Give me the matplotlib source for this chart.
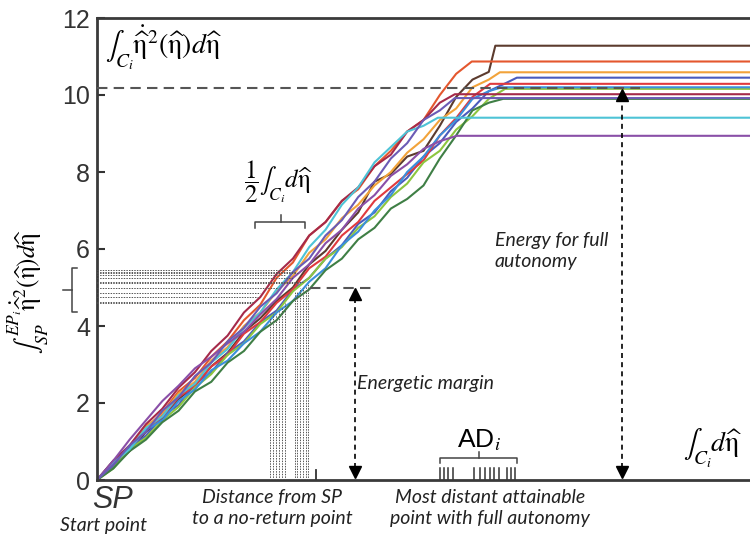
import numpy as np
import matplotlib.pyplot as plt

plt.rcParams['mathtext.fontset'] = 'stix'

# x grid (arbitrary distance units, axis spans 0..100)
step = 2.5

# energy curves, values on the grid, then (x, y) where the plateau starts
brown = [0, 0.38, 0.75, 1.25, 1.6, 2.1, 2.45, 2.95, 3.3, 3.85, 4.2, 4.65, 5.0, 5.6, 5.95,
         6.5, 6.95, 7.75, 7.95, 8.4, 8.55, 9.2, 9.95, 10.4, 10.6]
red_orange = [0, 0.45, 0.8, 1.35, 1.75, 2.3, 2.65, 3.2, 3.6, 4.15, 4.55, 5.25, 5.65, 6.35,
              6.7, 7.25, 7.55, 8.15, 8.55, 9.05, 9.35, 10.0, 10.55]
orange = [0, 0.5, 0.85, 1.4, 1.7, 2.25, 2.55, 3.1, 3.45, 4.0, 4.35, 4.9, 5.3, 5.9, 6.25,
          6.8, 7.15, 7.65, 8.0, 8.5, 8.85, 9.35, 9.65, 10.2, 10.4]
blue = [0, 0.35, 0.85, 1.15, 1.65, 1.95, 2.5, 2.8, 3.3, 3.6, 4.1, 4.4, 4.95, 5.25, 5.75,
        6.1, 6.65, 6.95, 7.5, 7.85, 8.4, 8.75, 9.3, 9.65, 10.1, 10.3]
red = [0, 0.45, 0.8, 1.3, 1.65, 2.15, 2.45, 2.95, 3.25, 3.8, 4.1, 4.6, 4.95, 5.5, 5.8,
       6.35, 6.7, 7.25, 7.6, 7.95, 8.3, 8.95, 9.4, 9.95]
light_green = [0, 0.3, 0.8, 1.1, 1.55, 1.9, 2.4, 2.75, 3.25, 3.55, 4.05, 4.35, 4.9, 5.25,
               5.75, 6.05, 6.55, 6.85, 7.35, 7.7, 8.25, 8.55, 9.1, 9.45, 9.9]
light_blue = [0, 0.5, 0.8, 1.3, 1.55, 2.05, 2.35, 2.85, 3.1, 3.55, 3.85, 4.35, 4.65, 5.15,
              5.5, 6.1, 6.45, 7.0, 7.4, 8.0, 8.4, 8.95, 9.35, 9.9, 10.1]
dark_red = [0, 0.5, 0.9, 1.45, 1.85, 2.4, 2.8, 3.35, 3.75, 4.35, 4.75, 5.35, 5.75, 6.35,
            6.7, 7.25, 7.6, 8.15, 8.45, 9.05, 9.35, 9.8]
dark_green = [0, 0.3, 0.75, 1.05, 1.5, 1.8, 2.3, 2.55, 3.05, 3.35, 3.85, 4.15, 4.65, 4.95,
              5.45, 5.75, 6.25, 6.55, 7.05, 7.3, 7.65, 8.35, 8.95, 9.6, 9.8]
cyan = [0, 0.45, 0.8, 1.35, 1.65, 2.2, 2.5, 3.05, 3.4, 3.95, 4.35, 4.95, 5.4, 6.05, 6.5,
        7.15, 7.6, 8.25, 8.65, 9.05, 9.2]
purple = [0, 0.5, 1.05, 1.55, 2.05, 2.45, 2.9, 3.2, 3.55, 3.85, 4.3, 4.7, 5.25, 5.6, 6.15,
          6.5, 7.05, 7.4, 7.9, 8.2, 8.6, 8.8]
violet = [0, 0.4, 0.9, 1.25, 1.8, 2.15, 2.7, 3.05, 3.6, 3.95, 4.5, 4.85, 5.4, 5.75, 6.35,
          6.75, 7.35, 7.75, 8.35, 8.75, 9.35, 9.6]

curves = [brown, red_orange, orange, blue, red, light_green, light_blue, dark_red,
          dark_green, cyan, purple, violet]
plateau_x = [61.0, 57.4, 61.7, 64.3, 60.2, 62.5, 62.0, 54.8, 62.2, 52.2, 55.1, 54.8]
plateau_y = [11.28, 10.87, 10.59, 10.45, 10.29, 10.16, 10.2, 10.02, 9.9, 9.41, 8.94, 9.92]
colors = ['#5c3b2e', '#e4572e', '#f2a33a', '#4a5bbd', '#e03a3e', '#8dc63f', '#3b8fdb',
          '#a52a4a', '#3f7f45', '#4ec3d6', '#8a4fa8', '#6b5bb5']

# no-return points (dotted guides)
nr_h_y = [5.45, 5.41, 5.37, 5.32, 5.24, 5.15, 5.11, 4.98, 4.87, 4.76, 4.63, 4.59]
nr_h_x = [29.5, 30.5, 31.0, 29.0, 30.0, 31.5, 30.8, 27.5, 25.0, 24.6, 24.0, 23.7]
nr_v_x = [26.5, 27.0, 27.4, 27.8, 28.3, 28.8, 30.3, 30.6, 31.1, 31.5, 32.0, 32.3]
nr_v_top = [4.2, 4.3, 4.3, 4.4, 4.5, 4.6, 4.9, 4.9, 5.0, 5.0, 5.05, 5.1]
nr_mean = 33.5

# attainable distances (ticks under AD_i)
ad_x = [52.6, 53.2, 53.8, 54.5, 57.7, 58.6, 59.4, 60.2, 60.8, 61.5, 62.8, 63.4, 64.0]

full_energy = 10.18
full_arrow_x = 80.4
margin_energy = 5.0
margin_arrow_x = 39.5

fig = plt.figure(figsize=(7.5, 5.38), dpi=100)
ax = fig.add_axes([97 / 750, 58 / 538, 653 / 750, 462 / 538])

for ys, xe, ye, c in zip(curves, plateau_x, plateau_y, colors):
    xs = list(np.arange(len(ys)) * step) + [xe, 100]
    ax.plot(xs, list(ys) + [ye, ye], color=c, lw=1.5, zorder=2)

dot = dict(color='#555555', lw=0.7, dashes=(1.5, 1.2), zorder=3)
for y, x in zip(nr_h_y, nr_h_x):
    ax.plot([0, x], [y, y], **dot)
for x, t in zip(nr_v_x, nr_v_top):
    ax.plot([x, x], [0, t], **dot)
ax.plot([nr_mean, nr_mean], [0, 0.27], color='#333333', lw=1.3)
for x in ad_x:
    ax.plot([x, x], [0, 0.3], color='#333333', lw=1.1)

dash = dict(color='#555555', lw=1.5, dashes=(5, 3), zorder=4)
ax.plot([0, 83.2], [full_energy, full_energy], **dash)
ax.plot([32.6, 42.6], [margin_energy, margin_energy], **dash)
arr = dict(color='black', lw=1.2, dashes=(3, 2.5), zorder=5)
for x, top in [(full_arrow_x, full_energy), (margin_arrow_x, margin_energy)]:
    ax.plot([x, x], [0.3, top - 0.3], **arr)
    ax.plot(x, top - 0.18, marker='^', color='black', ms=9, zorder=6)
    ax.plot(x, 0.22, marker='v', color='black', ms=9, zorder=6)

# braces
br = dict(color='#444444', lw=1.1, clip_on=False)
ax.plot([-3.06, -3.83, -3.83, -3.06], [5.5, 5.5, 4.36, 4.36], **br)
ax.plot([-5.2, -3.83], [4.94, 4.94], **br)
ax.plot([24.2, 24.2, 31.85, 31.85], [6.55, 6.7, 6.7, 6.55], **br)
ax.plot([28.2, 28.2], [6.7, 6.88], **br)
ax.plot([52.5, 52.5, 64.3, 64.3], [0.44, 0.57, 0.57, 0.44], **br)
ax.plot([58.5, 58.5], [0.57, 0.73], **br)

ax.set_xlim(0, 100)
ax.set_ylim(0, 12)
ax.set_yticks(range(0, 13, 2))
ax.set_xticks([])
ax.spines['right'].set_visible(False)
for s in ['left', 'top', 'bottom']:
    ax.spines[s].set_color('#3a3a3a')
    ax.spines[s].set_linewidth(2)
ax.tick_params(axis='y', direction='in', length=6, width=1.5, colors='#333333',
               labelsize=18, pad=5)
for lab in ax.get_yticklabels():
    lab.set_family('Liberation Sans')

def fx(px):
    return px / 750

def fy(py):
    return 1 - py / 538

eta = r'\widehat{\mathrm{\eta}}'
eta_dot = r'\dot{\widehat{\mathrm{\eta}}}'
fig.text(fx(105), fy(48), r'$\int_{C_i}' + eta_dot + '^2(' + eta + ')d' + eta + '$',
         fontsize=20, ha='left', va='center')
fig.text(fx(279), fy(182), r'$\dfrac{1}{2}\int_{C_i}d' + eta + '$', fontsize=18,
         ha='center', va='center')
fig.text(fx(713), fy(448), r'$\int_{C_i}d' + eta + '$', fontsize=20, ha='center',
         va='center')
fig.text(fx(28), fy(292), r'$\int_{SP}^{EP_i}' + eta_dot + '^2(' + eta + ')d' + eta + '$',
         fontsize=18, rotation=90, ha='center', va='center')
fig.text(fx(479), fy(440), r'AD$_i$', fontsize=19, family='Liberation Sans',
         ha='center', va='center')

it = dict(family='Lato', style='italic', fontsize=14, color='#222222')
fig.text(fx(357), fy(383), 'Energetic margin', ha='left', va='center', **it)
fig.text(fx(495), fy(251), 'Energy for full\nautonomy', ha='left', va='center',
         linespacing=1.3, **it)
fig.text(fx(113), fy(500), 'SP', family='Liberation Sans', style='italic', fontsize=22,
         ha='center', va='center', color='#333333')
fig.text(fx(103), fy(525), 'Start point', ha='center', va='center', **it)
fig.text(fx(272), fy(508), 'Distance from SP\nto a no-return point', ha='center',
         va='center', linespacing=1.3, **it)
fig.text(fx(490), fy(508), 'Most distant attainable\npoint with full autonomy',
         ha='center', va='center', linespacing=1.3, **it)

fig.savefig('out.png', dpi=100)
